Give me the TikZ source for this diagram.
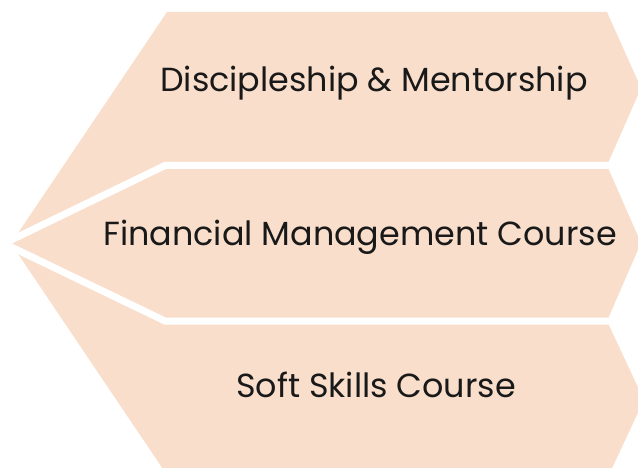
\documentclass[tikz,border=0pt]{standalone}
\usepackage{fontspec}
\setmainfont{Poppins}
\usepackage{tikz}
\definecolor{peach}{HTML}{F9DECC}
\tikzset{
  band/.style={fill=peach,draw=none},
  gap/.style={draw=white,line width=7bp,line join=miter},
  label/.style={anchor=base,text=black!90,font=\fontsize{33.5}{38}\selectfont},
}

\begin{document}
\begin{tikzpicture}[x=1bp,y=-1bp]
    \useasboundingbox (0,0) rectangle (638,468);
    % three bands of the arrow
    \fill[band] (11,243.5)--(167,12)--(607,12)--(641,88)--(607,165.5)--(165,165.5)--cycle;
    \fill[band] (11,243.5)--(165,165.5)--(607,165.5)--(641,243)--(607,321)--(165,321)--cycle;
    \fill[band] (11,243.5)--(165,321)--(607,321)--(644,400)--(607,479)--(167,475)--cycle;
    % white gaps between the bands
    \draw[gap] (4,243.5)--(165,165.5)--(620,165.5);
    \draw[gap] (4,243.5)--(165,321)--(620,321);
    \node[label] (mentor) at (374,92) {Discipleship \& Mentorship};
    \node[label] (finance) at (360,246) {Financial Management Course};
    \node[label] (soft) at (376,397) {Soft Skills Course};
  \end{tikzpicture}
\end{document}
